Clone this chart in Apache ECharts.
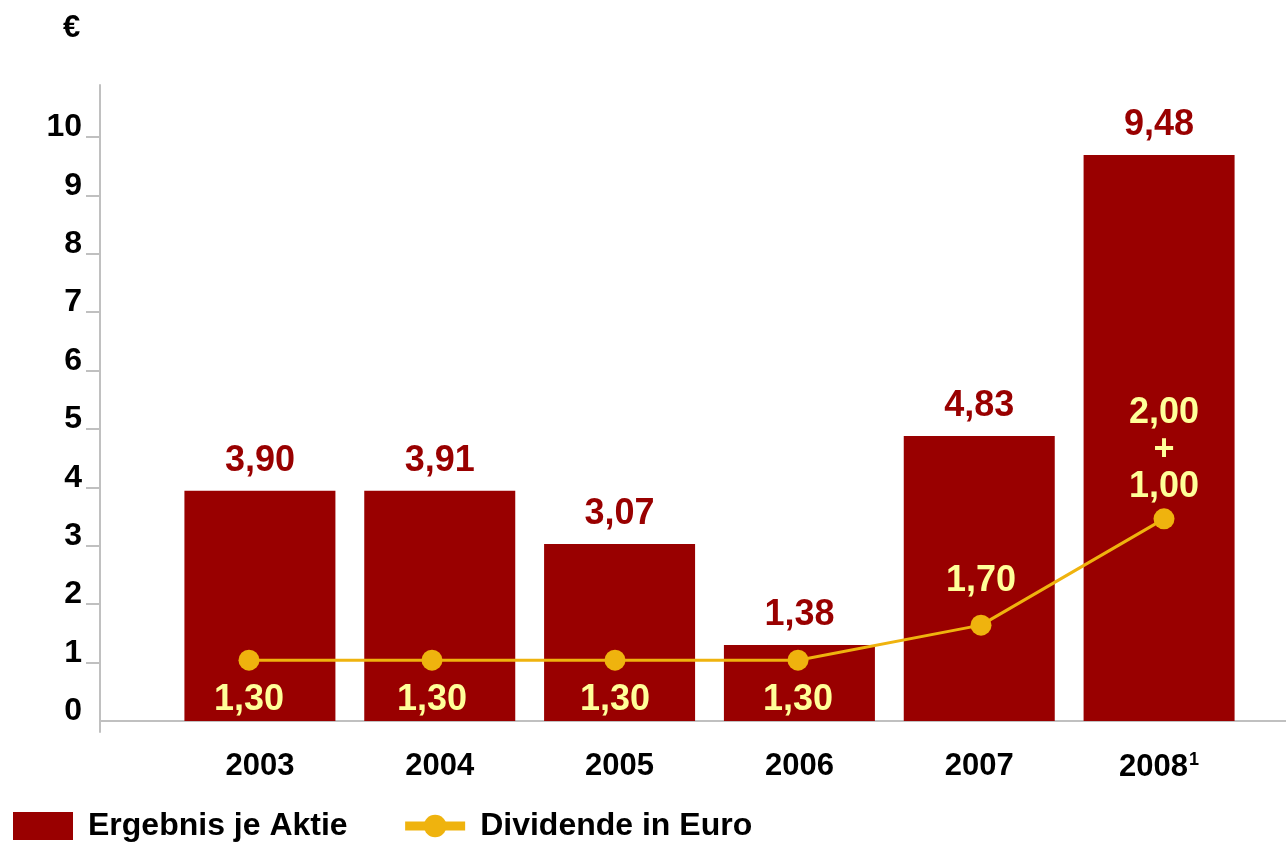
<!DOCTYPE html>
<html>
<head>
<meta charset="utf-8">
<script src="https://cdn.jsdelivr.net/npm/echarts@6/dist/echarts.min.js"></script>
<style>
html,body{margin:0;padding:0;background:#fff;}
#chart{width:1286px;height:846px;}
</style>
</head>
<body>
<div id="chart"></div>
<script>
// ---- data ----
const years = ['2003', '2004', '2005', '2006', '2007', '2008'];
const yearNotes = ['', '', '', '', '', '1'];
// bar heights as drawn in the picture (Ergebnis je Aktie)
const epsValues = [3.94, 3.94, 3.03, 1.30, 4.88, 9.69];
const epsLabels = ['3,90', '3,91', '3,07', '1,38', '4,83', '9,48'];
// dividend points as drawn in the picture
const divValues = [1.04, 1.04, 1.04, 1.04, 1.64, 3.46];
const divLabels = ['1,30', '1,30', '1,30', '1,30', '1,70', '2,00\n+\n1,00'];
const divLabelPos = ['bottom', 'bottom', 'bottom', 'bottom', 'top', 'top'];
const yTickValues = [1, 2, 3, 4, 5, 6, 7, 8, 9, 10];
const yLabelValues = [0, 1, 2, 3, 4, 5, 6, 7, 8, 9, 10];
const yMin = -0.19, yMax = 10.89;

const FONT = '"Liberation Sans", Arial, sans-serif';
const RED = '#990000';
const GOLD = '#efb30e';
const PALE = '#ffff99';
const AXIS = '#c0c0c0';

const chart = echarts.init(document.getElementById('chart'), null, {renderer: 'canvas'});

const hiddenY = (gi) => ({type: 'value', gridIndex: gi, min: yMin, max: yMax, show: false});

const option = {
  animation: false,
  backgroundColor: '#fff',
  textStyle: {fontFamily: FONT},
  title: {
    text: '€', left: 58, top: 8,
    textStyle: {fontFamily: FONT, fontSize: 31, fontWeight: 'bold', color: '#000'}
  },
  legend: {
    left: 13, top: 810, padding: 0,
    itemWidth: 60, itemHeight: 28, itemGap: 53,
    textStyle: {fontFamily: FONT, fontSize: 32, fontWeight: 'bold', color: '#000', padding: [0, 0, 0, 10]},
    data: [
      {name: 'Ergebnis je Aktie', icon: 'rect'},
      {name: 'Dividende in Euro', lineStyle: {width: 9}}
    ]
  },
  grid: [
    {left: 170, right: 37, top: 85, bottom: 114},   // bars
    {left: 100, right: 0, top: 85, bottom: 114},    // axis frame
    {left: 157.5, right: 30.5, top: 85, bottom: 114} // dividend line
  ],
  xAxis: [
    {
      type: 'category', gridIndex: 0, data: years,
      axisLine: {show: false}, axisTick: {show: false},
      axisLabel: {
        interval: 0, margin: 19, fontFamily: FONT, fontSize: 31, fontWeight: 'bold', color: '#000',
        formatter: (v, i) => v + (yearNotes[i] ? '{sup|' + yearNotes[i] + '}' : ''),
        rich: {sup: {fontFamily: FONT, fontSize: 18, fontWeight: 'bold', color: '#000', padding: [0, 0, 14, 1]}}
      }
    },
    {
      type: 'value', gridIndex: 1, min: 0, max: 1,
      axisLine: {show: true, onZero: true, lineStyle: {color: AXIS, width: 2}},
      axisTick: {show: false}, axisLabel: {show: false}, splitLine: {show: false}
    },
    {
      type: 'category', gridIndex: 2, data: years, show: false
    }
  ],
  yAxis: [
    hiddenY(0),
    {
      type: 'value', gridIndex: 1, min: yMin, max: yMax,
      axisLine: {show: true, lineStyle: {color: AXIS, width: 2}},
      axisTick: {show: true, length: 14, customValues: yTickValues, lineStyle: {color: AXIS, width: 2}},
      axisLabel: {
        customValues: yLabelValues, margin: 18, verticalAlign: 'bottom', lineHeight: 19,
        fontFamily: FONT, fontSize: 32, fontWeight: 'bold', color: '#000'
      },
      splitLine: {show: false}
    },
    hiddenY(2)
  ],
  series: [
    {
      name: 'Ergebnis je Aktie', type: 'bar', xAxisIndex: 0, yAxisIndex: 0,
      barWidth: 151,
      itemStyle: {color: RED},
      data: epsValues.map((v, i) => ({
        value: v,
        label: {
          show: true, position: 'top', distance: 12, formatter: epsLabels[i],
          fontFamily: FONT, fontSize: 36, fontWeight: 'bold', color: RED
        }
      }))
    },
    {
      name: 'Dividende in Euro', type: 'line', xAxisIndex: 2, yAxisIndex: 2,
      symbol: 'circle', symbolSize: 21,
      itemStyle: {color: GOLD},
      lineStyle: {color: GOLD, width: 3},
      z: 5,
      data: divValues.map((v, i) => ({
        value: v,
        label: {
          show: true, position: divLabelPos[i],
          distance: i < 4 ? 11 : (i === 4 ? 15 : 3),
          formatter: divLabels[i], lineHeight: 37,
          fontFamily: FONT, fontSize: 36, fontWeight: 'bold', color: PALE
        }
      }))
    }
  ]
};
chart.setOption(option);
</script>
</body>
</html>
